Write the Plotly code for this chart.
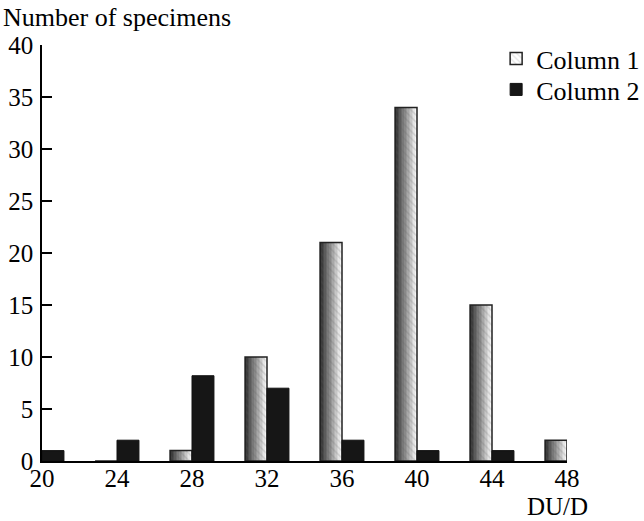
import plotly.graph_objects as go

categories = [20, 24, 28, 32, 36, 40, 44, 48]
column1 = [0, 0, 1, 10, 21, 34, 15, 2]
column2 = [1, 2, 8.2, 7, 2, 1, 1, 0]
y_ticks = [0, 5, 10, 15, 20, 25, 30, 35, 40]
x_ticks = [20, 24, 28, 32, 36, 40, 44, 48]

BW = 1.17
FONT = "Liberation Serif"
fig = go.Figure()

# gradient fill for column 1 built from thin slices of the same bars
N = 14
c0, c1 = 45, 245
for i in range(N):
    g = int(c0 + (c1 - c0) * i / (N - 1))
    fig.add_trace(go.Bar(
        x=categories, y=column1, width=BW / N + 0.01, offset=-BW + i * BW / N,
        marker=dict(color=f"rgb({g},{g},{g})", line=dict(width=0)),
        showlegend=False, hoverinfo="skip"))
# stripe overlay and outline (legend entry)
fig.add_trace(go.Bar(
    x=categories, y=column1, width=BW, offset=-BW, name="Column 1",
    legend="legend",
    marker=dict(color="rgba(0,0,0,0)",
                pattern=dict(shape="\\", fgcolor="rgba(90,90,90,0.35)",
                             bgcolor="rgba(0,0,0,0)", size=5, solidity=0.3),
                line=dict(color="#222222", width=1.5))))
fig.add_trace(go.Bar(
    x=categories, y=column2, width=BW, offset=0, name="Column 2",
    legend="legend2",
    marker=dict(color="#161616", line=dict(color="#111111", width=1))))

fig.add_annotation(text="Number of specimens", xref="paper", yref="paper",
                   x=-0.078, y=1.067, xanchor="left", yanchor="middle",
                   showarrow=False, font=dict(family=FONT, size=26, color="black"))
fig.add_annotation(text="DU/D", xref="paper", yref="paper",
                   x=0.981, y=-0.1442, xanchor="center", yanchor="bottom",
                   borderpad=0,
                   showarrow=False, font=dict(family=FONT, size=25, color="black"))

leg = dict(xanchor="left", yanchor="top", font=dict(family=FONT, size=26),
           bgcolor="rgba(0,0,0,0)")
fig.update_layout(
    width=644, height=521, barmode="overlay",
    margin=dict(l=42, r=77, t=45, b=60, autoexpand=False),
    plot_bgcolor="white", paper_bgcolor="white",
    font=dict(family=FONT, size=25, color="black"),
    legend=dict(x=0.865, y=1.024, **leg),
    legend2=dict(x=0.865, y=0.9495, **leg),
    xaxis=dict(range=[20, 48], tickvals=x_ticks, ticktext=[str(v) for v in x_ticks],
               showline=True, linecolor="black", linewidth=1.5, ticks="",
               showgrid=False, zeroline=False, automargin=False,
               tickfont=dict(family=FONT, size=25), ticklabelstandoff=-6),
    yaxis=dict(range=[0, 40], tickvals=y_ticks, showline=True, linecolor="black",
               linewidth=1.5, ticks="inside", ticklen=10, tickwidth=1.5,
               tickcolor="black", showgrid=False, zeroline=False, automargin=False,
               tickfont=dict(family=FONT, size=25), ticklabelstandoff=2),
)

fig.write_html("out.html", config={"displayModeBar": False},
               post_script="document.body.style.margin='0';document.body.style.overflow='hidden';")
